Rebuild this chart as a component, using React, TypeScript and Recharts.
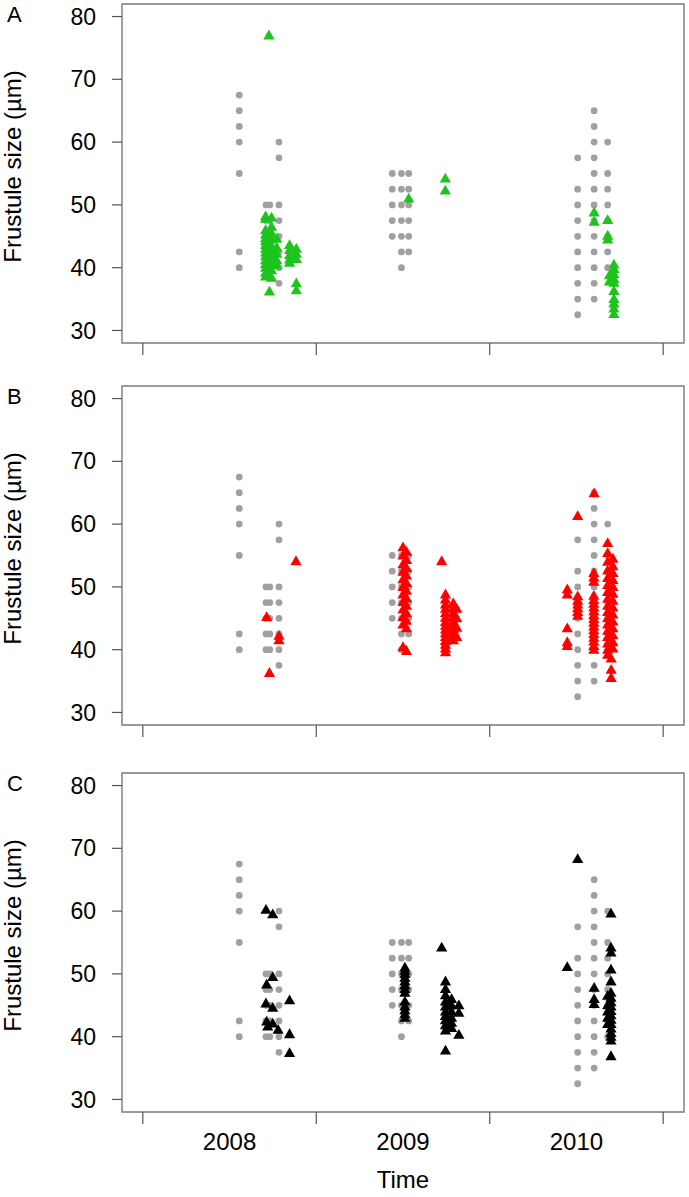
import React from 'react';
import { ScatterChart, Scatter, XAxis, YAxis, ReferenceArea } from 'recharts';

// x = years since start of 2008 (sampling dates), y = frustule size (µm)
const yearLabels = ['2008', '2009', '2010'];
const yearTicks = [0, 0.5, 1, 1.5, 2, 2.5, 3];
const sizeTicks = [30, 40, 50, 60, 70, 80];
const panelLetters = ['A', 'B', 'C'];

// reference (grey circles), one list per sampling column
const referenceColumns: [number, number[]][] = [
    [0.556, [67.5, 65, 62.5, 60, 55, 42.5, 40]],
    [0.71, [50, 47.5, 45, 42.5, 40]],
    [0.732, [50, 47.5, 45, 42.5, 40]],
    [0.785, [60, 57.5, 50, 47.5, 45, 42.5, 40, 37.5]],
    [1.438, [55, 52.5, 50, 47.5, 45]],
    [1.491, [55, 52.5, 50, 47.5, 45, 42.5, 40]],
    [1.533, [55, 52.5, 50, 47.5, 45, 42.5]],
    [2.507, [57.5, 52.5, 50, 47.5, 45, 42.5, 40, 37.5, 35, 32.5]],
    [2.602, [65, 62.5, 60, 57.5, 55, 52.5, 50, 47.5, 45, 42.5, 40, 37.5, 35]],
    [2.68, [60, 55, 52.5, 50, 47.5, 45, 42.5, 40]],
];

// panel A (green triangles)
const greenColumns: [number, number[]][] = [
    [0.727, [77]],
    [0.708, [48.2, 47.8, 46, 45.3, 44.7, 44.2, 43.6, 43, 42.4, 41.8, 41.2, 40.6, 40, 39.2, 38.6]],
    [0.73, [36.2]],
    [0.742, [48, 46.5, 45.5, 44.5, 43.5, 42.6, 41.9, 41.3, 40.5, 39.6, 38.4]],
    [0.772, [44.6, 43.2, 42.2, 41.2, 40.4]],
    [0.846, [43.6, 42.8, 42, 41.3, 40.8]],
    [0.885, [43, 42.2, 41.4, 37.5, 36.4]],
    [1.533, [51]],
    [1.744, [54.2, 52.3]],
    [2.602, [48.8, 47.3]],
    [2.68, [47.6, 45.1, 44.5]],
    [2.69, [38.8, 37.8]],
    [2.716, [40.5, 39.8, 39, 38.2, 37.6, 36.3, 35, 34.3, 33.5, 32.6]],
];

// panel B (red triangles)
const redColumns: [number, number[]][] = [
    [0.883, [54.1]],
    [0.714, [45.2]],
    [0.785, [42.2, 41.5]],
    [0.73, [36.3]],
    [1.5, [56.3, 55, 53.6, 52.4, 51.2, 50, 48.8, 47.6, 46.4, 45.2, 44, 40.4]],
    [1.52, [55.6, 54.3, 53, 51.8, 50.6, 49.4, 48.2, 47, 45.8, 44.6, 43.4, 39.8]],
    [1.723, [54.1]],
    [1.745, [48.8, 48, 47.2, 46.5, 45.8, 45.1, 44.4, 43.8, 43.2, 42.6, 42, 41.4, 40.8, 40.2, 39.6]],
    [1.79, [47.4, 46.6, 45.9, 45.2, 44.5, 43.9, 43.3, 42.7, 42.1, 41.5]],
    [1.81, [46.5, 45, 43.5, 42]],
    [2.507, [61.3, 48.5, 47.8, 47.2, 46.6, 46, 45.4]],
    [2.602, [64.9]],
    [2.447, [49.6, 48.8, 43.4, 41.2, 40.6]],
    [2.6, [52.2, 51.5, 50.8, 48.6, 47.9, 47.3, 46.7, 46.1, 45.5, 44.9, 44.3, 43.7, 43.1, 42.5, 41.9, 41.3, 40.6, 40]],
    [2.68, [57, 55.4, 54, 52.6, 51.4, 50.3, 49.2, 48.1, 47, 46, 45, 44, 43, 42, 41, 40, 39.2]],
    [2.71, [54.5, 53.3, 52.2, 51.1, 50, 48.9, 47.8, 46.7, 45.6, 44.5, 43.4, 42.3, 41.2, 40.2]],
    [2.7, [38.6, 36.8, 35.5]],
];

// panel C (black triangles)
const blackColumns: [number, number[]][] = [
    [0.71, [60.2, 45.3]],
    [0.749, [59.5, 49.5, 44.6, 42.1]],
    [0.714, [48.3, 42.4]],
    [0.72, [41.6]],
    [0.78, [41.1]],
    [0.846, [45.8, 40.4, 37.4]],
    [1.511, [51, 50.5, 50, 49.4, 48.8, 48.2, 47.6, 47, 45.6, 44.8, 44.2, 43.6, 43]],
    [1.723, [54.2]],
    [1.745, [48.8, 47.6, 46.6, 45.6, 44.8, 44, 43.3, 42.6, 41.8, 41, 37.8]],
    [1.78, [46, 45, 44, 43, 42.2, 41.4]],
    [1.822, [45, 43.8, 40.3]],
    [2.507, [68.3]],
    [2.447, [51.1]],
    [2.602, [47.8, 46, 45.2]],
    [2.699, [59.6, 54.2, 53.4, 50.7, 48.8, 47, 46.2, 45.5, 44.8, 44.1, 43.4, 42.7, 42, 41.3, 40.6, 40, 39.4, 36.9]],
    [2.68, [46.5, 45, 44, 43, 42]],
];

const toPoints = (cols: [number, number[]][]) =>
    cols.flatMap(([x, ys]) => ys.map((y) => ({ x, y })));

const FONT = '"Liberation Sans", Arial, Helvetica, sans-serif';
const BOX = '#7a7a7a';

const Triangle = (props: any) => {
    const { cx, cy, fill } = props;
    if (cx == null || cy == null) return <g />;
    return <polygon points={`${cx},${cy - 5.8} ${cx - 5.6},${cy + 4} ${cx + 5.6},${cy + 4}`} fill={fill} />;
};

const Dot = (props: any) => {
    const { cx, cy } = props;
    if (cx == null || cy == null) return <g />;
    return <circle cx={cx} cy={cy} r={3.4} fill="#a0a0a0" />;
};

function XTick(props: any) {
    const { x, y, payload, showLabels } = props;
    const v = payload.value as number;
    if (Number.isInteger(v)) {
        return <line x1={x} x2={x} y1={y} y2={y + 12} stroke="#555" strokeWidth={1.2} />;
    }
    if (!showLabels) return <g />;
    return (
        <text x={x} y={y + 38} textAnchor="middle" fontSize={24} fontFamily={FONT} fill="#000">
            {yearLabels[Math.floor(v)]}
        </text>
    );
}

function YLabel(props: any) {
    const { viewBox } = props;
    const cy = viewBox.y + viewBox.height / 2 - 7;
    return (
        <text x={21} y={cy} transform={`rotate(-90, 21, ${cy})`} textAnchor="middle" fontSize={24} fontFamily={FONT} fill="#000">
            Frustule size (µm)
        </text>
    );
}

function TimeLabel(props: any) {
    const { viewBox } = props;
    return (
        <text x={viewBox.x + viewBox.width / 2} y={viewBox.y + 76} textAnchor="middle" fontSize={24} fontFamily={FONT} fill="#000">
            Time
        </text>
    );
}

function Panel({ top, height, xAxisHeight, letter, points, color, bottom }: any) {
    return (
        <div style={{ position: 'absolute', left: 0, top, width: 689, height }}>
            <ScatterChart width={689} height={height} margin={{ top: 4, right: 5, left: 0, bottom: 0 }}>
                <XAxis
                    type="number"
                    dataKey="x"
                    domain={[-0.12, 3.12]}
                    ticks={yearTicks}
                    interval={0}
                    allowDataOverflow
                    axisLine={false}
                    tickLine={false}
                    tickSize={0}
                    tickMargin={0}
                    height={xAxisHeight}
                    tick={(p: any) => <XTick {...p} showLabels={bottom} />}
                    label={bottom ? <TimeLabel /> : undefined}
                />
                <YAxis
                    type="number"
                    dataKey="y"
                    domain={[28, 82]}
                    ticks={sizeTicks}
                    interval={0}
                    allowDataOverflow
                    axisLine={false}
                    tickSize={10}
                    tickMargin={16}
                    tickLine={{ stroke: '#555', strokeWidth: 1.2 }}
                    width={122}
                    tick={{ fontSize: 23, fontFamily: FONT, fill: '#000' }}
                    label={<YLabel />}
                />
                <ReferenceArea x1={-0.12} x2={3.12} y1={28} y2={82} fill="none" stroke={BOX} strokeWidth={1.4} ifOverflow="visible" />
                <Scatter data={toPoints(referenceColumns)} shape={<Dot />} isAnimationActive={false} />
                <Scatter data={points} fill={color} shape={<Triangle />} isAnimationActive={false} />
            </ScatterChart>
            <div style={{ position: 'absolute', left: 7, top: 2, fontSize: 22, fontFamily: FONT, color: '#000' }}>{letter}</div>
        </div>
    );
}

export default function App() {
    return (
        <div style={{ position: 'absolute', left: 0, top: 0, width: 689, height: 1197, background: '#fff' }}>
            <Panel top={0} height={382} xAxisHeight={39} letter={panelLetters[0]} points={toPoints(greenColumns)} color="#1cc41c" />
            <Panel top={382} height={387} xAxisHeight={44} letter={panelLetters[1]} points={toPoints(redColumns)} color="#ff0000" />
            <Panel top={769} height={428} xAxisHeight={85} letter={panelLetters[2]} points={toPoints(blackColumns)} color="#000000" bottom />
        </div>
    );
}
